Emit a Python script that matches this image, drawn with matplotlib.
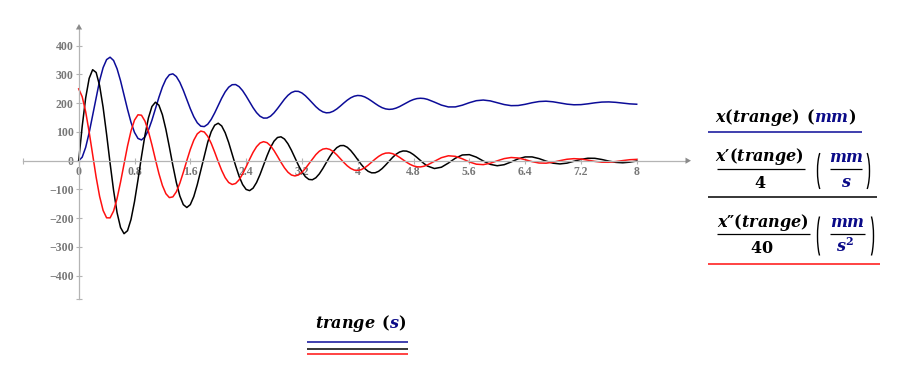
import matplotlib
matplotlib.use('Agg')
import matplotlib.pyplot as plt
from matplotlib.patches import Arc, Polygon

# sample times (s)
trange = [
    0.00, 0.05, 0.10, 0.15, 0.20, 0.25, 0.30, 0.35, 0.40, 0.45,
    0.50, 0.55, 0.60, 0.65, 0.70, 0.75, 0.80, 0.85, 0.90, 0.95,
    1.00, 1.05, 1.10, 1.15, 1.20, 1.25, 1.30, 1.35, 1.40, 1.45,
    1.50, 1.55, 1.60, 1.65, 1.70, 1.75, 1.80, 1.85, 1.90, 1.95,
    2.00, 2.05, 2.10, 2.15, 2.20, 2.25, 2.30, 2.35, 2.40, 2.45,
    2.50, 2.55, 2.60, 2.65, 2.70, 2.75, 2.80, 2.85, 2.90, 2.95,
    3.00, 3.05, 3.10, 3.15, 3.20, 3.25, 3.30, 3.35, 3.40, 3.45,
    3.50, 3.55, 3.60, 3.65, 3.70, 3.75, 3.80, 3.85, 3.90, 3.95,
    4.00, 4.05, 4.10, 4.15, 4.20, 4.25, 4.30, 4.35, 4.40, 4.45,
    4.50, 4.55, 4.60, 4.65, 4.70, 4.75, 4.80, 4.85, 4.90, 4.95,
    5.00, 5.10, 5.20, 5.30, 5.40, 5.50, 5.60, 5.70, 5.80, 5.90,
    6.00, 6.10, 6.20, 6.30, 6.40, 6.50, 6.60, 6.70, 6.80, 6.90,
    7.00, 7.10, 7.20, 7.30, 7.40, 7.50, 7.60, 7.70, 7.80, 7.90,
    8.00,
]

# x(trange) in mm
x_mm = [
    0.0, 12.2, 46.4, 97.4, 158.4, 221.3, 278.7, 323.7, 351.7, 360.0,
    348.6, 319.8, 278.0, 228.9, 178.6, 133.4, 98.4, 77.4, 72.2, 82.6,
    106.7, 140.8, 180.5, 220.5, 256.1, 283.2, 299.0, 302.1, 292.7, 272.6,
    244.7, 212.8, 180.9, 152.9, 131.9, 120.1, 118.6, 126.9, 143.7, 166.4,
    192.1, 217.4, 239.4, 255.6, 264.3, 264.9, 257.5, 243.6, 225.1, 204.5,
    184.4, 167.1, 154.6, 148.2, 148.4, 154.7, 166.3, 181.3, 197.8, 213.8,
    227.4, 237.0, 241.6, 241.1, 235.6, 226.0, 213.8, 200.6, 187.9, 177.3,
    169.9, 166.5, 167.4, 172.1, 179.9, 189.8, 200.5, 210.5, 218.8, 224.4,
    226.9, 225.9, 221.9, 215.4, 207.4, 198.9, 190.9, 184.4, 180.2, 178.5,
    179.5, 182.9, 188.2, 194.7, 201.5, 207.8, 212.8, 216.1, 217.2, 216.3,
    213.4, 203.8, 193.4, 187.0, 187.1, 193.1, 201.7, 208.7, 211.0, 208.1,
    201.8, 195.3, 191.5, 192.0, 196.1, 201.6, 205.8, 207.0, 204.9, 200.8,
    196.7, 194.5, 195.0, 197.8, 201.3, 203.9, 204.5, 203.0, 200.2, 197.7,
    196.4,
]

# x'(trange)/4 in mm/s
v_div4 = [
    0.0, 119.3, 218.4, 286.4, 316.5, 306.9, 260.9, 185.6, 91.7, -8.7,
    -103.2, -180.7, -232.5, -253.8, -243.5, -204.3, -142.5, -66.4, 14.0, 88.7,
    149.1, 188.6, 203.4, 193.0, 159.8, 109.0, 47.5, -16.7, -75.8, -122.8,
    -152.8, -162.8, -152.8, -124.8, -83.2, -33.5, 17.8, 64.4, 101.0, 123.6,
    130.3, 120.9, 97.3, 63.3, 23.2, -17.7, -54.5, -82.9, -99.9, -104.1,
    -95.5, -75.8, -47.9, -15.7, 16.9, 45.9, 67.9, 80.7, 83.1, 75.4,
    58.9, 36.2, 10.2, -15.7, -38.5, -55.6, -65.1, -66.3, -59.4, -45.7,
    -27.2, -6.3, 14.3, 32.2, 45.4, 52.4, 52.8, 46.8, 35.4, 20.4,
    3.6, -12.8, -26.9, -37.0, -42.2, -42.0, -36.8, -27.4, -15.1, -1.7,
    11.4, 22.4, 30.2, 33.9, 33.4, 28.9, 21.1, 11.2, 0.4, -9.9,
    -18.6, -27.2, -22.7, -8.2, 8.6, 19.9, 21.1, 12.5, -1.0, -12.7,
    -17.5, -13.9, -4.3, 6.4, 13.1, 13.2, 7.3, -1.4, -8.6, -11.2,
    -8.5, -2.1, 4.6, 8.6, 8.3, 4.2, -1.4, -5.8, -7.2, -5.1,
    -1.0,
]

# x''(trange)/40 in mm/s^2
a_div40 = [
    249.8, 222.6, 170.0, 99.5, 20.4, -57.3, -124.3, -173.1, -198.6, -198.9,
    -175.2, -131.6, -74.2, -10.7, 51.0, 103.6, 141.1, 159.7, 158.2, 137.7,
    101.6, 55.0, 4.1, -44.9, -86.1, -114.8, -128.4, -125.8, -108.1, -78.3,
    -40.5, 0.3, 39.1, 71.3, 93.4, 103.1, 99.9, 84.8, 60.2, 29.6,
    -3.1, -33.8, -59.0, -75.8, -82.7, -79.2, -66.4, -46.2, -21.4, 4.7,
    29.1, 48.7, 61.5, 66.2, 62.8, 51.9, 35.3, 15.3, -5.6, -24.8,
    -40.1, -49.8, -53.0, -49.7, -40.6, -27.0, -10.8, 5.9, 21.1, 33.0,
    40.3, 42.4, 39.3, 31.6, 20.5, 7.4, -5.9, -17.8, -27.0, -32.6,
    -33.9, -31.1, -24.6, -15.5, -5.0, 5.6, 15.0, 22.2, 26.3, 27.0,
    24.5, 19.1, 11.7, 3.3, -5.2, -12.6, -18.1, -21.2, -21.6, -19.3,
    -14.8, -2.0, 10.5, 17.1, 15.2, 6.6, -4.2, -12.1, -13.7, -8.9,
    -0.5, 7.3, 11.1, 9.4, 3.6, -3.3, -8.0, -8.6, -5.3, 0.2,
    5.0, 7.1, 5.8, 1.9, -2.4, -5.3, -5.4, -3.1, 0.4, 3.4,
    4.6,
]

x_ticks = [0, 0.8, 1.6, 2.4, 3.2, 4, 4.8, 5.6, 6.4, 7.2, 8]
x_tick_labels = ['0', '0.8', '1.6', '2.4', '3.2', '4', '4.8', '5.6', '6.4', '7.2', '8']
y_ticks = [-400, -300, -200, -100, 0, 100, 200, 300, 400]
y_tick_labels = ['\u2212400', '\u2212300', '\u2212200', '\u2212100', '0',
                 '100', '200', '300', '400']

NAVY = '#0c0c98'
UNIT = '#0a0a88'
RED = '#ff1010'
AXIS_GRAY = '#b4b4b4'
ARROW_GRAY = '#8a8a8a'
LABEL_GRAY = '#777777'

plt.rcParams.update({
    'mathtext.fontset': 'custom',
    'mathtext.it': 'DejaVu Serif:italic:bold',
    'mathtext.rm': 'DejaVu Serif:bold',
    'mathtext.bf': 'DejaVu Serif:bold',
})

W, H = 897, 368
X0, PX_PER_S = 78.7, 69.75       # pixel column of t=0, pixels per second
Y0, PX_PER_MM = 160.7, 0.2875    # pixel row of value 0, pixels per unit

fig = plt.figure(figsize=(W / 100, H / 100), dpi=100)
ax = fig.add_axes([0, 0, 1, 1])
ax.patch.set_alpha(0)
ax.set_xlim(-X0 / PX_PER_S, (W - X0) / PX_PER_S)
ax.set_ylim(-(H - Y0) / PX_PER_MM, Y0 / PX_PER_MM)

ax.plot(trange, x_mm, color=NAVY, lw=1.1)
ax.plot(trange, v_div4, color='black', lw=1.1)
ax.plot(trange, a_div40, color=RED, lw=1.1)

# mathcad style crossing axes
for side in ['top', 'right']:
    ax.spines[side].set_visible(False)
ax.spines['left'].set_position(('data', 0))
ax.spines['bottom'].set_position(('data', 0))
ax.spines['left'].set_bounds(-481, 458)
ax.spines['bottom'].set_bounds(-0.803, 8.71)
for side in ['left', 'bottom']:
    ax.spines[side].set_color(AXIS_GRAY)
    ax.spines[side].set_linewidth(0.9)

ax.set_xticks(x_ticks)
ax.set_xticklabels(x_tick_labels)
ax.set_xticks([-0.803], minor=True)
ax.set_yticks(y_ticks)
ax.set_yticklabels(y_tick_labels)
ax.set_yticks([-481], minor=True)
ax.tick_params(which='both', direction='inout', length=5, width=0.8,
               color=AXIS_GRAY, labelcolor=LABEL_GRAY, labelsize=8.5)
ax.tick_params(axis='x', pad=1.5)
ax.tick_params(axis='y', pad=1)
for lbl in ax.get_xticklabels() + ax.get_yticklabels():
    lbl.set_family('Liberation Serif')
    lbl.set_fontweight('bold')

# overlay in pixel coordinates for arrows and the trace legends
ov = fig.add_axes([0, 0, 1, 1])
ov.set_xlim(0, W)
ov.set_ylim(H, 0)
ov.axis('off')
ov.patch.set_alpha(0)

ov.add_patch(Polygon([(685.5, 157.6), (691, 160.7), (685.5, 163.8)],
                     closed=True, color=ARROW_GRAY, lw=0))
ov.add_patch(Polygon([(75.9, 29.5), (79, 24), (82.1, 29.5)],
                     closed=True, color=ARROW_GRAY, lw=0))

FS = 11.5


def txt(x, y, s, color='black', ha='left', size=FS):
    ov.text(x, y, s, color=color, ha=ha, va='baseline', fontsize=size)


def hline(x1, x2, y, color='black', lw=0.9):
    ov.plot([x1, x2], [y, y], color=color, lw=lw, solid_capstyle='butt')


def parens(xl, xr, yc, h):
    ov.add_patch(Arc((xl + 5, yc), 11, h, theta1=100, theta2=260, lw=1.0, color='black'))
    ov.add_patch(Arc((xr - 5, yc), 11, h, theta1=-80, theta2=80, lw=1.0, color='black'))


# legend entry 1
txt(715, 122.5, r'$x(trange)$')
txt(806, 122.5, r'$($')
txt(814, 122.5, r'$mm$', color=UNIT)
txt(848.5, 122.5, r'$)$')
hline(708, 862, 131.7, color=NAVY, lw=1.1)

# legend entry 2
txt(759.5, 161, '$x\u2032(trange)$', ha='center')
hline(717, 805, 169)
txt(760, 188.3, r'$4$', ha='center')
parens(818, 869, 171, 44)
txt(846, 161.7, r'$mm$', color=UNIT, ha='center')
hline(830, 862, 169.3)
txt(846, 186.7, r'$s$', color=UNIT, ha='center')
hline(708, 877, 197.3, lw=1.1)

# legend entry 3
txt(762.5, 227.3, '$x\u2033(trange)$', ha='center')
hline(717, 810, 234)
txt(761.7, 253.3, r'$40$', ha='center')
parens(818, 873, 236, 50)
txt(847, 226.7, r'$mm$', color=UNIT, ha='center')
hline(830, 865, 234.3)
txt(845, 251.7, r'$s^2$', color=UNIT, ha='center')
hline(708, 880, 264, color=RED, lw=1.1)

# x axis label
txt(315, 328.3, r'$trange$')
txt(381, 328.3, r'$($')
txt(389, 328.3, r'$s$', color=UNIT)
txt(398, 328.3, r'$)$')
hline(307, 408, 341.7, color=NAVY, lw=1.1)
hline(307, 408, 348.7, lw=1.1)
hline(307, 408, 354.3, color=RED, lw=1.1)

fig.savefig('out.png', dpi=100)
